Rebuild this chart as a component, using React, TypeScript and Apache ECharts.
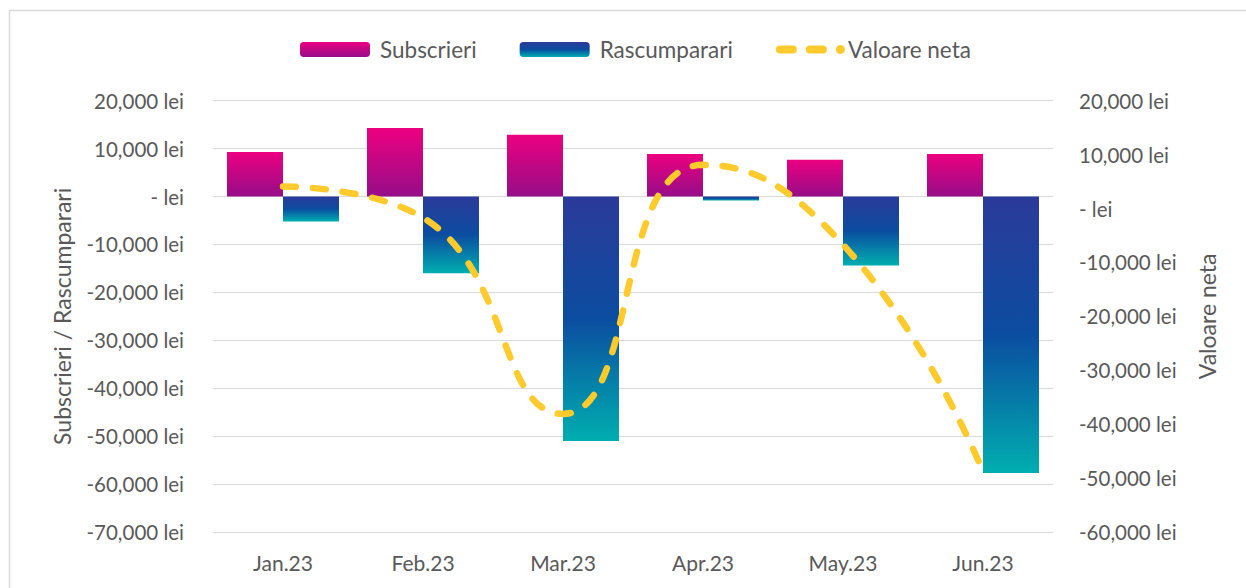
import React, { useEffect, useRef } from "react";
import * as echarts from "echarts";

const categories = ["Jan.23", "Feb.23", "Mar.23", "Apr.23", "May.23", "Jun.23"];
const subscrieri = [9300, 14300, 12900, 8900, 7700, 8900];
const rascumparari = [-5200, -16000, -51000, -800, -14400, -57700];
const valoareNeta = [4100, -1700, -38100, 8100, -6700, -48800];

const FONT = "Lato";
const TXT = "#595959";

const fmt = (v: number) => (v === 0 ? "- lei" : v.toLocaleString("en-US") + " lei");

const lineIcon =
  "path://M0,0 L0.01,0 Z M70,15 L69.99,15 Z " +
  "M4,3.5 L17,3.5 A4,4 0 0 1 17,11.5 L4,11.5 A4,4 0 0 1 4,3.5 Z " +
  "M34,3.5 L47,3.5 A4,4 0 0 1 47,11.5 L34,11.5 A4,4 0 0 1 34,3.5 Z " +
  "M60,7.5 A4.5,4.5 0 1 1 69,7.5 A4.5,4.5 0 1 1 60,7.5 Z";

export default function App() {
  const ref = useRef<HTMLDivElement>(null);
  useEffect(() => {
    if (!ref.current) return;
    const chart = echarts.init(ref.current, null, { renderer: "svg" });
    chart.setOption({
      animation: false,
      backgroundColor: "#ffffff",
      textStyle: { fontFamily: FONT, color: TXT },
      graphic: [
        {
          type: "rect",
          shape: { x: 9.5, y: 10.5, width: 1400, height: 800 },
          style: { fill: "none", stroke: "#D9D9D9", lineWidth: 1.5 },
          silent: true,
        },
      ],
      legend: {
        top: 33,
        left: 295,
        itemWidth: 70,
        itemHeight: 15,
        itemGap: 43,
        textStyle: { fontFamily: FONT, fontSize: 22.5, color: TXT, padding: [0, 0, 0, 5] },
        data: [
          { name: "Subscrieri" },
          { name: "Rascumparari" },
          {
            name: "Valoare neta",
            icon: lineIcon,
            itemStyle: { color: "#FFCA2C" },
            textStyle: { padding: [0, 0, 0, -3] },
          },
        ],
      },
      grid: { left: 213, right: 193, top: 100.7, bottom: 56, containLabel: false },
      xAxis: {
        type: "category",
        data: categories,
        axisLine: { show: false },
        axisTick: { show: false },
        axisLabel: { fontFamily: FONT, fontSize: 21, color: TXT, margin: 20 },
      },
      yAxis: [
        {
          type: "value",
          min: -70000,
          max: 20000,
          interval: 10000,
          name: "Subscrieri / Rascumparari",
          nameLocation: "middle",
          nameRotate: 90,
          nameGap: 140,
          nameTextStyle: { fontFamily: FONT, fontSize: 23, color: TXT },
          axisLine: { show: false },
          axisTick: { show: false },
          axisLabel: { fontFamily: FONT, fontSize: 20.5, color: TXT, margin: 29, formatter: fmt },
          splitLine: { lineStyle: { color: "#D9D9D9", width: 1.2 } },
        },
        {
          type: "value",
          min: -60000,
          max: 20000,
          interval: 10000,
          name: "Valoare neta",
          nameLocation: "middle",
          nameRotate: 90,
          nameGap: 142,
          nameTextStyle: { fontFamily: FONT, fontSize: 23, color: TXT },
          axisLine: { show: false },
          axisTick: { show: false },
          axisLabel: { fontFamily: FONT, fontSize: 20.5, color: TXT, margin: 26, formatter: fmt },
          splitLine: { show: false },
        },
      ],
      series: [
        {
          name: "Subscrieri",
          type: "bar",
          data: subscrieri,
          barGap: "0%",
          barCategoryGap: "20%",
          itemStyle: {
            color: new echarts.graphic.LinearGradient(0, 0, 0, 1, [
              { offset: 0, color: "#EC0080" },
              { offset: 1, color: "#960D88" },
            ]),
          },
        },
        {
          name: "Rascumparari",
          type: "bar",
          data: rascumparari,
          itemStyle: {
            color: new echarts.graphic.LinearGradient(0, 0, 0, 1, [
              { offset: 0, color: "#2B3A9A" },
              { offset: 0.5, color: "#0B4DA0" },
              { offset: 1, color: "#00AEB0" },
            ]),
          },
        },
        {
          name: "Valoare neta",
          type: "line",
          yAxisIndex: 1,
          data: valoareNeta,
          smooth: 0.5,
          symbol: "none",
          z: 5,
          itemStyle: { color: "#FFCA2C" },
          lineStyle: { color: "#FFCA2C", width: 6.5, type: [13, 17], cap: "round" },
        },
      ],
    });
    return () => chart.dispose();
  }, []);
  return (
    <div
      ref={ref}
      style={{ position: "fixed", left: 0, top: 0, width: 1246, height: 588 }}
    />
  );
}
